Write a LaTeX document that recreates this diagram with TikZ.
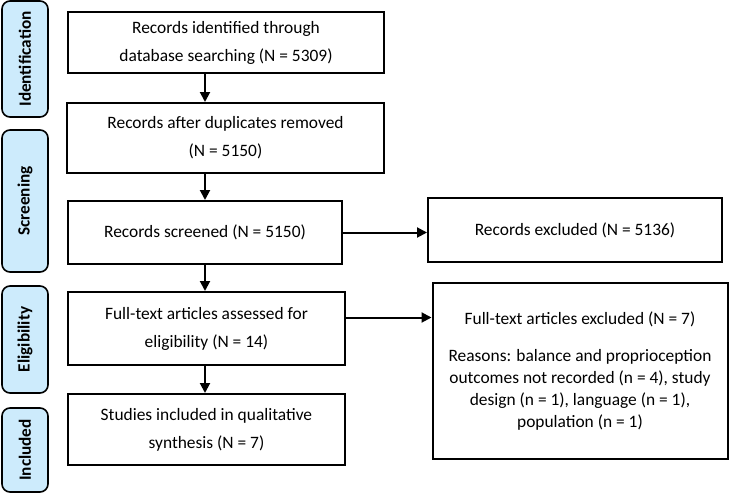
\documentclass[tikz,border=0pt]{standalone}
\usepackage{fontspec}
\setmainfont{Carlito}
\usetikzlibrary{arrows.meta}
\tikzset{>=stealth}
\definecolor{stagefill}{RGB}{205,235,252}
\tikzset{
  box/.style={draw,line width=1pt,align=center,inner sep=0pt,
    font=\fontsize{8.7}{14}\selectfont},
  stage/.style={draw,line width=.8pt,rounded corners=4pt,fill=stagefill,
    rotate=90,inner sep=0pt,font=\fontsize{8.6}{10}\selectfont\bfseries},
  arr/.style={-{Triangle[length=5pt,width=5pt]},line width=1pt}
}

\begin{document}
\begin{tikzpicture}[x=.5pt,y=-.5pt]
\useasboundingbox (0,0) rectangle (729,493);
\node[stage,minimum width=58pt,minimum height=23pt]   (ident)  at (25,59)    {Identification};
\node[stage,minimum width=71pt,minimum height=23pt]   (screen) at (25,201)   {Screening};
\node[stage,minimum width=53.5pt,minimum height=23pt] (elig)   at (25,339.5) {Eligibility};
\node[stage,minimum width=42pt,minimum height=23pt]   (incl)   at (25,450)   {Included};

\node[box,minimum width=158pt,minimum height=30.5pt] (found) at (226,42.5)
  {Records identified through\\database searching (N = 5309)};
\node[box,minimum width=158.5pt,minimum height=35pt] (dedup) at (225.5,138)
  {Records after duplicates removed\\(N = 5150)};
\node[box,minimum width=137pt,minimum height=31.5pt] (screened) at (205,232.5)
  {Records screened (N = 5150)};
\node[box,minimum width=138.5pt,minimum height=36.5pt] (fulltext) at (206.5,328.5)
  {Full-text articles assessed for\\eligibility (N = 14)};
\node[box,minimum width=138.5pt,minimum height=35.5pt] (included) at (206.5,429.5)
  {Studies included in qualitative\\synthesis (N = 7)};

\node[box,minimum width=147pt,minimum height=32pt] (excl) at (575,230)
  {Records excluded (N = 5136)};
\node[box,minimum width=147.5pt,minimum height=88pt,font=\fontsize{8.7}{11}\selectfont]
  (ftexcl) at (580,371)
  {Full-text articles excluded (N = 7)\\[7.5pt]
   Reasons: balance and proprioception\\
   outcomes not recorded (n = 4), study\\
   design (n = 1), language (n = 1),\\
   population (n = 1)};

\draw[arr] (found.south -| screened) -- (dedup.north -| screened);
\draw[arr] (dedup.south -| screened) -- (screened.north);
\draw[arr] (screened.south) -- (fulltext.north -| screened);
\draw[arr] (fulltext.south -| screened) -- (included.north -| screened);
\draw[arr] (screened.east) -- (screened.east -| excl.west);
\draw[arr] ([yshift=5.5pt]fulltext.east) -- ([yshift=5.5pt]fulltext.east -| ftexcl.west);
\end{tikzpicture}
\end{document}
